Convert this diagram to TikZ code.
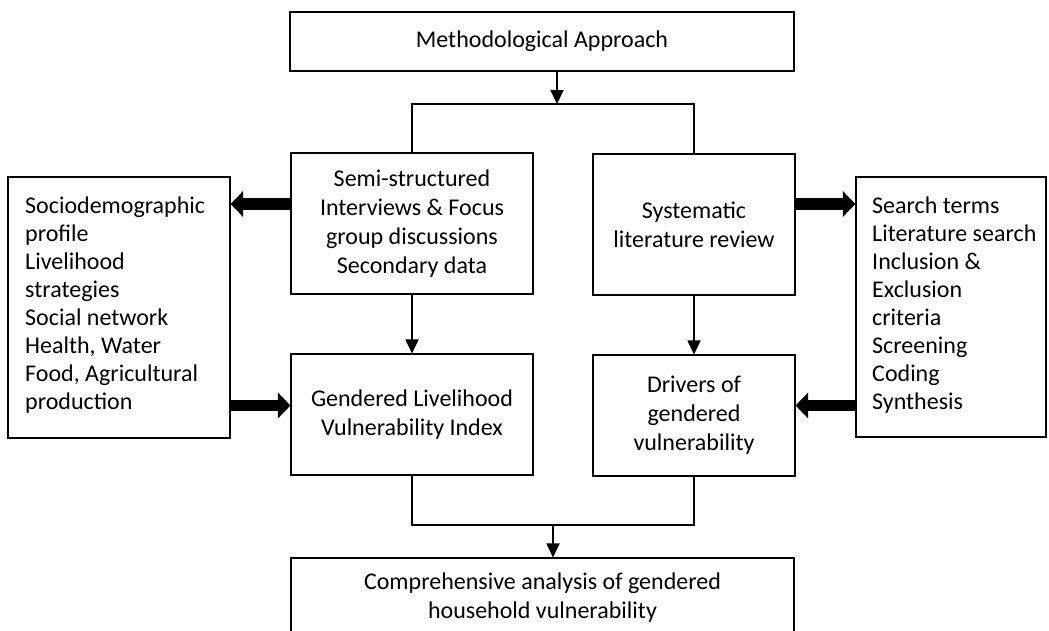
\documentclass[tikz,border=0pt]{standalone}
\usepackage{fontspec}
\setmainfont{Carlito}
\usetikzlibrary{arrows.meta}
\begin{document}
\begin{tikzpicture}[x=1pt,y=-1pt,
  box/.style={draw, line width=1.1pt, inner sep=0pt, align=center,
    font=\fontsize{24}{29}\selectfont},
  conn/.style={line width=1.8pt},
  arr/.style={conn, -{Triangle[length=14pt,width=13pt]}},
  blk/.style={line width=11.5pt, -{Triangle[length=12.5pt,width=25pt]}},
  txt/.style={inner sep=0pt, align=center, font=\fontsize{24}{29}\selectfont},
  sidetxt/.style={inner sep=0pt, align=left, anchor=west, font=\fontsize{24}{28}\selectfont}]
\useasboundingbox (0,0) rectangle (1049,630);
\clip (0,0) rectangle (1049,630);

\node[box, minimum width=504pt, minimum height=59pt] (top) at (542,41.5) {Methodological Approach};
\node[box, minimum width=242pt, minimum height=141pt] (semi) at (412,223.5)
  {Semi-structured\\Interviews \& Focus\\group discussions\\Secondary data};
\node[box, minimum width=202pt, minimum height=141pt] (sys) at (694,224.5)
  {Systematic\\literature review};
\node[box, minimum width=242pt, minimum height=121pt] (gend) at (412,414.5)
  {Gendered Livelihood\\Vulnerability Index};
\node[box, minimum width=202pt, minimum height=121pt] (driv) at (694,415.5)
  {Drivers of\\gendered\\vulnerability};
\node[box, minimum width=222pt, minimum height=261pt] (left) at (119,307.5) {};
\node[sidetxt] (lefttext) at (25,305.5)
  {Sociodemographic\\profile\\Livelihood\\strategies\\Social network\\Health, Water\\Food, Agricultural\\production};
\node[box, minimum width=190pt, minimum height=260pt] (right) at (951,307) {};
\node[sidetxt] (righttext) at (872,305)
  {Search terms\\Literature search\\Inclusion \&\\Exclusion\\criteria\\Screening\\Coding\\Synthesis};
\node[box, minimum width=503pt, minimum height=120pt] (bottom) at (542.5,618) {};
\node[txt] (bottomtext) at (542.5,598) {Comprehensive analysis of gendered\\household vulnerability};

\coordinate (j1) at (557,104);
\coordinate (j2) at (553,525);
\coordinate (ya) at (0,204);
\coordinate (yb) at (0,405.5);

\draw[arr] (top.south -| j1) -- (j1);
\draw[conn] (semi.north) -- (semi.north |- j1) -| (sys.north);
\draw[arr] (semi.south) -- (gend.north);
\draw[arr] (sys.south) -- (driv.north);
\draw[conn] (gend.south) -- (gend.south |- j2) -| (driv.south);
\draw[arr] (j2) -- (bottom.north -| j2);

\draw[blk] (semi.west |- ya) -- (left.east |- ya);
\draw[blk] (sys.east |- ya) -- (right.west |- ya);
\draw[blk] (left.east |- yb) -- (gend.west |- yb);
\draw[blk] (right.west |- yb) -- (driv.east |- yb);
\end{tikzpicture}
\end{document}
